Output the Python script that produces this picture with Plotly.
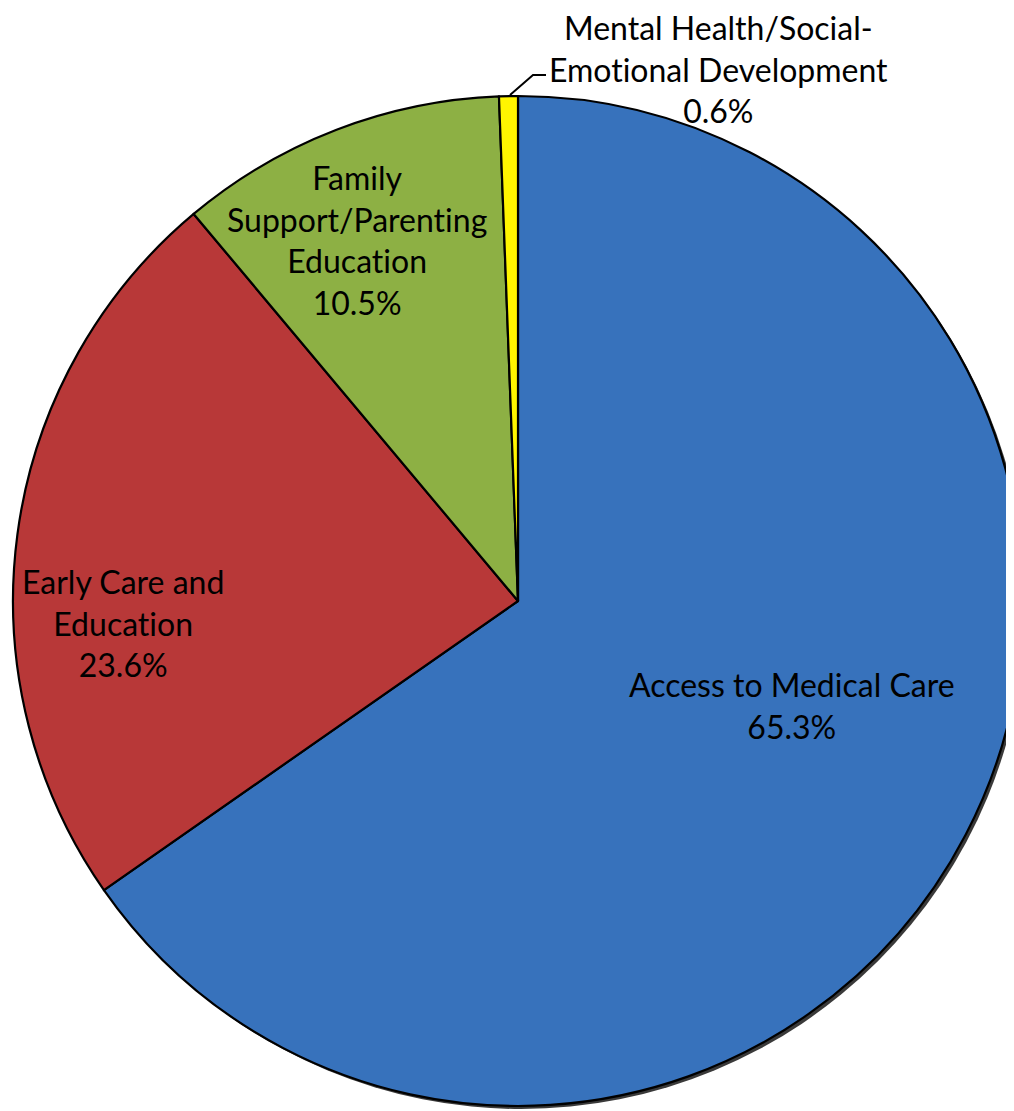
import plotly.graph_objects as go

labels = ["Access to Medical Care", "Early Care and Education",
          "Family Support/Parenting Education",
          "Mental Health/Social-Emotional Development"]
values = [65.3, 23.6, 10.5, 0.6]
colors = ["#3772BC", "#B83838", "#8DB044", "#FFF500"]

ZW = "\u200c"  # prevent "ti" ligature
display_text = ["Access to Medical Care<br>65.3%",
                f"Early Care and<br>Educat{ZW}ion<br>23.6%",
                f"Family<br>Support/Parent{ZW}ing<br>Educat{ZW}ion<br>10.5%",
                f"Mental Health/Social-<br>Emot{ZW}ional Development<br>0.6%"]

OFF = 8  # page body margin
W, H = 1030, 1111
cx, cy, r = 518 - OFF, 601 - OFF, 505


def px(x):
    return (x - OFF) / W


def py(y):
    return 1 - (y - OFF) / H


fig = go.Figure()
# soft shadow behind the pie
sh = 3
fig.add_trace(go.Pie(
    values=[1], labels=["shadow"], sort=False, textinfo="none", hoverinfo="skip",
    marker=dict(colors=["#3a3a3a"], line=dict(width=0)), showlegend=False,
    domain=dict(x=[(cx - r + sh) / W, (cx + r + sh) / W],
                y=[1 - (cy + r + sh) / H, 1 - (cy - r + sh) / H]),
))
fig.add_trace(go.Pie(
    labels=labels, values=values, sort=False, direction="clockwise", rotation=0,
    marker=dict(colors=colors, line=dict(color="black", width=2.2)),
    textinfo="none", hoverinfo="label+percent", showlegend=False,
    domain=dict(x=[(cx - r) / W, (cx + r) / W], y=[1 - (cy + r) / H, 1 - (cy - r) / H]),
))

font = dict(family="Lato, 'Open Sans', sans-serif", size=32, color="black")
pos = [(792, 705), (123, 623), (357, 240), (718, 69)]
for t, (x, y) in zip(display_text, pos):
    fig.add_annotation(x=px(x), y=py(y), xref="paper", yref="paper",
                       text=t, showarrow=False, font=font, align="center",
                       xanchor="center", yanchor="middle")

fig.add_shape(type="path", xref="paper", yref="paper",
              path=f"M {px(510)} {py(95)} L {px(533)} {py(75)} L {px(546)} {py(75)}",
              line=dict(color="black", width=2))

fig.update_layout(width=W, height=H, margin=dict(l=0, r=0, t=0, b=0),
                  paper_bgcolor="white", plot_bgcolor="white")
fig.write_html("out.html")
